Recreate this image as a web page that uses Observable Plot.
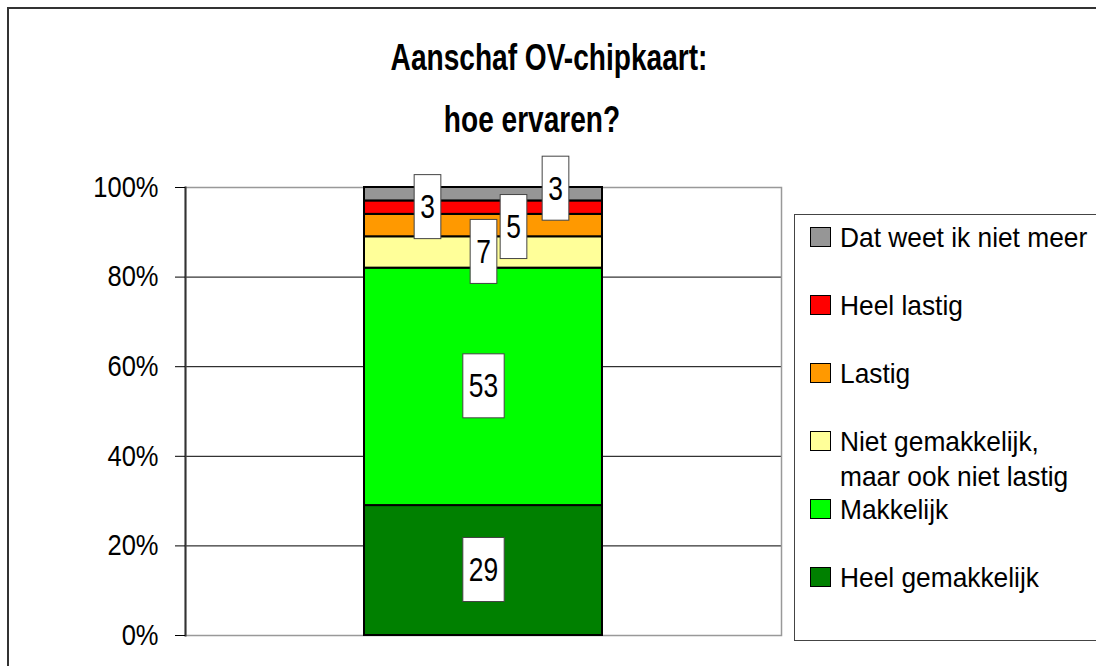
<!DOCTYPE html>
<html>
<head>
<meta charset="utf-8">
<script src="https://cdn.jsdelivr.net/npm/d3@7"></script>
<script src="https://cdn.jsdelivr.net/npm/@observablehq/plot@0.6"></script>
<style>
html, body { margin: 0; padding: 0; background: #fff; }
body { width: 1096px; height: 666px; overflow: hidden; position: relative; font-family: "Liberation Sans", Arial, sans-serif; }
#frame { position: absolute; left: 7px; top: 7px; width: 1200px; height: 800px; border-left: 2px solid #333; border-top: 2px solid #333; }
.title { position: absolute; font-weight: bold; font-size: 36px; line-height: 36px; white-space: nowrap; color: #000; }
#legend { position: absolute; left: 794px; top: 214px; width: 400px; height: 425px; border: 1px solid #444; background: #fff; }
.sw { position: absolute; width: 19px; height: 18px; border: 1.5px solid #000; }
.lt { position: absolute; font-size: 28px; line-height: 35px; width: 270px; color: #000; transform: scaleX(0.94); transform-origin: left top; }
#chart { position: absolute; left: 0; top: 0; }
</style>
</head>
<body>
<div id="frame"></div>
<div id="legend"></div>
<div id="chart"></div>
<script>
// ---- data ----
const categories = ["Heel gemakkelijk", "Makkelijk", "Niet gemakkelijk, maar ook niet lastig", "Lastig", "Heel lastig", "Dat weet ik niet meer"];
const values = [29, 53, 7, 5, 3, 3];
const colors = ["#008000", "#00FF00", "#FFFF99", "#FF9900", "#FF0000", "#969696"];
const yTicks = [0, 20, 40, 60, 80, 100];
const titleLines = ["Aanschaf OV-chipkaart:", "hoe ervaren?"];
const barName = "Aanschaf";

// ---- styling / layout config ----
const labelNudge = [{dx: 0, dy: 0}, {dx: 0, dy: 0}, {dx: 0, dy: 0}, {dx: 30, dy: 2}, {dx: -56, dy: 0}, {dx: 72, dy: -5}];
const titleLayout = [{cx: 549, baseline: 70}, {cx: 532, baseline: 132}];
const titleSqueeze = 0.78;
const labelSqueeze = 0.8;

// build table
let acc = 0;
const rows = categories.map((c, i) => {
  const r = {bar: barName, category: c, value: values[i], mid: acc + values[i] / 2, i};
  acc += values[i];
  return r;
});

// title
titleLines.forEach((t, i) => {
  const d = document.createElement("div");
  d.className = "title";
  d.textContent = t;
  d.style.top = (titleLayout[i].baseline - 30.5) + "px";
  d.style.left = titleLayout[i].cx + "px";
  d.style.transform = `translateX(-50%) scaleX(${titleSqueeze})`;
  document.body.appendChild(d);
});

// legend
const legend = document.getElementById("legend");
[...rows].reverse().forEach((r, k) => {
  const baseline = 247 + k * 68 - 214 - 1;
  const sw = document.createElement("div");
  sw.className = "sw";
  sw.style.background = colors[r.i];
  sw.style.left = (810 - 794 - 1) + "px";
  sw.style.top = (baseline - 20) + "px";
  legend.appendChild(sw);
  const lt = document.createElement("div");
  lt.className = "lt";
  lt.textContent = r.category;
  lt.style.left = (840 - 794 - 1) + "px";
  lt.style.top = (baseline - 27.2) + "px";
  legend.appendChild(lt);
});

const labelMarks = rows.map((r, i) => Plot.text([r], {
  x: "bar", y: "mid", text: d => String(d.value),
  dx: labelNudge[i].dx, dy: labelNudge[i].dy,
  fontSize: 33, fill: "#000", className: "lbl"
}));

const chart = Plot.plot({
  width: 1096,
  height: 666,
  marginLeft: 185,
  marginRight: 315,
  marginTop: 187,
  marginBottom: 31,
  style: {background: "transparent", fontFamily: "'Liberation Sans', Arial, sans-serif", overflow: "visible"},
  x: {domain: [barName], padding: 0.4286, axis: null},
  y: {domain: [0, 100]},
  color: {domain: categories, range: colors},
  marks: [
    Plot.ruleY(yTicks.filter(t => t > 0 && t < 100), {stroke: "#000", strokeWidth: 1}),
    Plot.frame({stroke: "#999", strokeWidth: 1.5}),
    Plot.barY(rows, {x: "bar", y: "value", fill: "category", stroke: "#000", strokeWidth: 2}),
    Plot.frame({anchor: "left", stroke: "#333", strokeWidth: 2}),
    Plot.axisY({ticks: yTicks, tickFormat: d => d + "%", tickSize: 10, tickPadding: 17, fontSize: 29, stroke: "#000", fill: "#000", label: null}),
    ...labelMarks
  ]
});
document.getElementById("chart").appendChild(chart);

function squeezeText(el, f) {
  let t = el.getAttribute("transform") || "";
  if (el.hasAttribute("x") && !t) {
    t = `translate(${el.getAttribute("x")},${el.getAttribute("y") || 0})`;
    el.removeAttribute("x"); el.removeAttribute("y");
  }
  el.setAttribute("transform", t + ` scale(${f},1)`);
}

d3.select(chart).selectAll('g[aria-label="y-axis tick label"] text').each(function() { squeezeText(this, 0.88); });

const svgRect = chart.getBoundingClientRect();
d3.select(chart).selectAll("g.lbl").each(function() {
  const g = this;
  d3.select(g).selectAll("text").each(function() {
    squeezeText(this, labelSqueeze);
    const b = this.getBoundingClientRect();
    const cx = b.left - svgRect.left + b.width / 2;
    const cy = b.top - svgRect.top + b.height / 2;
    const w = b.width + 12;
    const h = 64;
    const rect = document.createElementNS("http://www.w3.org/2000/svg", "rect");
    rect.setAttribute("x", cx - w / 2);
    rect.setAttribute("y", cy - h / 2);
    rect.setAttribute("width", w);
    rect.setAttribute("height", h);
    rect.setAttribute("fill", "#fff");
    rect.setAttribute("stroke", "#444");
    rect.setAttribute("stroke-width", 1);
    chart.insertBefore(rect, g);
  });
});
</script>
</body>
</html>
